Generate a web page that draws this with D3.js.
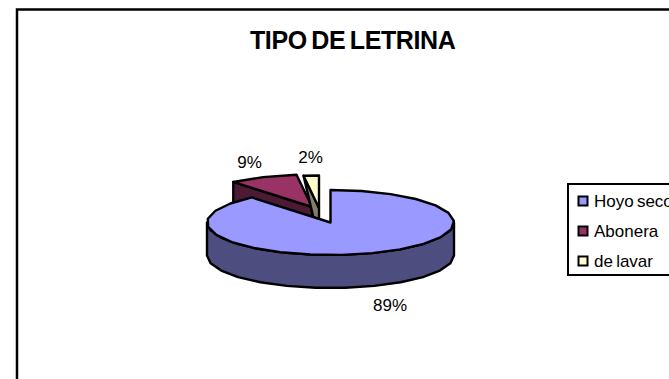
<!DOCTYPE html>
<html>
<head>
<meta charset="utf-8">
<script src="https://cdn.jsdelivr.net/npm/d3@7"></script>
<style>
html, body { margin: 0; padding: 0; background: #fff; overflow: hidden; }
text { font-family: "Liberation Sans", Arial, sans-serif; fill: #000; }
</style>
</head>
<body>
<div id="chart"></div>
<script>
var categories = ['Hoyo seco', 'Abonera', 'de lavar'];
var values = [89, 9, 2];
var percentLabels = ['89%', '9%', '2%'];
var chartTitle = 'TIPO DE LETRINA';

var topColors = ['#9999FF', '#993366', '#FFFFCC'];
var sideColors = ['#4D4D80', '#4D1A33', '#808066'];

var width = 669, height = 379;
var rx = 123.5, ry = 32.5, depth = 33;
var cx = 330.5, cy = 222.5;
// how far each slice is pulled out of the pie
var explode = [[0, 0], [-18.5, -15.5], [-11.5, -14.5]];
var labelPos = [[390, 311], [249.5, 168], [310.5, 163]];

var svg = d3.select('#chart').append('svg')
    .attr('width', width)
    .attr('height', height)
    .style('display', 'block');

// frame runs off the right and bottom of the picture
svg.append('rect')
    .attr('x', 17).attr('y', 9.5)
    .attr('width', 800).attr('height', 600)
    .attr('fill', '#fff')
    .attr('stroke', '#000')
    .attr('stroke-width', 2.5);

svg.append('text')
    .attr('x', 250).attr('y', 49)
    .style('font-size', '25px')
    .style('font-weight', 'bold')
    .style('letter-spacing', '-0.4px')
    .style('word-spacing', '-2px')
    .text(chartTitle);

var slices = d3.pie().sort(null).startAngle(0).endAngle(2 * Math.PI)(values);

function rim(angle, ox, oy) {
    return [cx + ox + rx * Math.sin(angle), cy + oy - ry * Math.cos(angle)];
}

// coarse steps on purpose, the original outline is faceted
function rimPoints(a0, a1, ox, oy) {
    var n = Math.max(1, Math.round((a1 - a0) / 0.25));
    return d3.range(n + 1).map(function(i) {
        return rim(a0 + (a1 - a0) * i / n, ox, oy);
    });
}

var line = d3.line();
var order = [1, 2, 0]; // back slices first, the big one over them

var pieG = svg.append('g')
    .attr('stroke', '#000')
    .attr('stroke-width', 2.4)
    .attr('stroke-linejoin', 'round');

order.forEach(function(i) {
    var d = slices[i];
    var ox = explode[i][0], oy = explode[i][1];
    var apex = [cx + ox, cy + oy];
    var apexLow = [apex[0], apex[1] + depth];

    // cut face on the left side of the slice
    var start = rim(d.startAngle, ox, oy);
    if (i == 1) {
        pieG.append('path')
            .attr('d', line([start, apex, apexLow, [start[0], start[1] + depth]]) + 'Z')
            .attr('fill', sideColors[i]);
    }
    if (i == 2) { // the thin slice only shows a sliver of its face
        pieG.append('path')
            .attr('d', line([start, apex, apexLow]) + 'Z')
            .attr('fill', sideColors[i]);
    }

    // outer wall, only the front half can be seen
    var a0 = Math.max(d.startAngle, Math.PI / 2);
    var a1 = Math.min(d.endAngle, 3 * Math.PI / 2);
    if (a1 > a0) {
        var upper = rimPoints(a0, a1, ox, oy);
        var lower = upper.map(function(p) { return [p[0], p[1] + depth]; }).reverse();
        pieG.append('path')
            .attr('d', line(upper.concat(lower)) + 'Z')
            .attr('fill', sideColors[i]);
    }

    pieG.append('path')
        .attr('d', line([apex].concat(rimPoints(d.startAngle, d.endAngle, ox, oy))) + 'Z')
        .attr('fill', topColors[i]);
});

svg.selectAll('text.pct')
    .data(percentLabels)
    .enter()
    .append('text')
    .attr('class', 'pct')
    .attr('x', function(d, i) { return labelPos[i][0]; })
    .attr('y', function(d, i) { return labelPos[i][1]; })
    .attr('text-anchor', 'middle')
    .style('font-size', '17px')
    .text(function(d) { return d; });

// legend
var legendX = 568, legendTop = 184, legendBottom = 275;
svg.append('rect')
    .attr('x', legendX).attr('y', legendTop)
    .attr('width', 200).attr('height', legendBottom - legendTop)
    .attr('fill', '#fff')
    .attr('stroke', '#000')
    .attr('stroke-width', 2);

var rowY = d3.scalePoint().domain(categories).range([201, 261]);

var rows = svg.selectAll('g.row')
    .data(categories)
    .enter()
    .append('g')
    .attr('class', 'row')
    .attr('transform', function(d) { return 'translate(' + legendX + ',' + rowY(d) + ')'; });

rows.append('rect')
    .attr('x', 10.5).attr('y', -4.5)
    .attr('width', 9).attr('height', 9)
    .attr('fill', function(d, i) { return topColors[i]; })
    .attr('stroke', '#000')
    .attr('stroke-width', 2);

rows.append('text')
    .attr('x', 26).attr('y', 6)
    .style('font-size', '17px')
    .style('word-spacing', '-1.5px')
    .text(function(d) { return d; });
</script>
</body>
</html>
